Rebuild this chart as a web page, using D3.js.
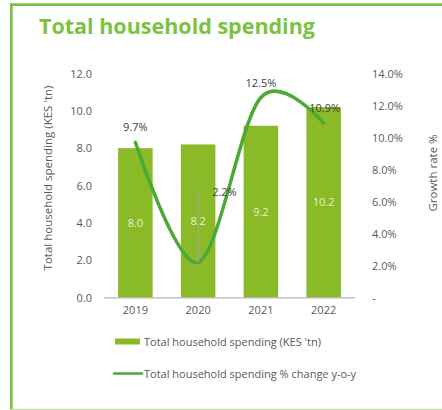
<!DOCTYPE html>
<html><head><meta charset="utf-8">
<script src="https://cdn.jsdelivr.net/npm/d3@7"></script>
<style>body{margin:0;background:#fff;}svg{display:block;font-family:"Open Sans",sans-serif;}</style>
</head><body><svg id="c" width="442" height="410"></svg>
<script>
const years = ["2019","2020","2021","2022"];
const spending = [8.0, 8.2, 9.2, 10.2];
const growth = [9.7, 2.2, 12.5, 10.9];
const leftTicks = [0,2,4,6,8,10,12];
const rightTicks = [0,2,4,6,8,10,12,14];
const title = "Total household spending";
const barName = "Total household spending (KES 'tn)";
const lineName = "Total household spending % change y-o-y";
const leftTitle = "Total household spending (KES 'tn)";
const rightTitle = "Growth rate %";

const svg = d3.select("#c");
const barColor = "#8aba27", lineColor = "#4aaa33", frame = "#7cc242", txt = "#595959";

// frame
svg.append("rect").attr("x",10).attr("y",3.3).attr("width",432).attr("height",2.7).attr("fill",frame);
svg.append("rect").attr("x",10).attr("y",3.3).attr("width",2.7).attr("height",406.7).attr("fill",frame);
svg.append("rect").attr("x",10).attr("y",408.8).attr("width",432).attr("height",1.2).attr("fill","#bfe09a");

svg.append("text").attr("x",39).attr("y",34).attr("font-size",21.5).attr("font-weight",700)
  .attr("fill",frame).text(title);

const x = d3.scaleBand().domain(years).range([104,355]).paddingInner(0.45).paddingOuter(0.225);
const yL = d3.scaleLinear().domain([0,12]).range([297.5,73.5]);
const yR = d3.scaleLinear().domain([0,14]).range([297.5,73.5]);

// bars
svg.selectAll(".bar").data(years).join("rect")
  .attr("x",d=>x(d)).attr("width",x.bandwidth())
  .attr("y",(d,i)=>yL(spending[i])).attr("height",(d,i)=>yL(0)-yL(spending[i]))
  .attr("fill",barColor);

// x axis line
svg.append("line").attr("x1",104).attr("x2",355).attr("y1",297.8).attr("y2",297.8)
  .attr("stroke","#b3b3b3").attr("stroke-width",1.3);

// left axis
const gl = svg.append("g").attr("transform","translate(92,0)")
  .call(d3.axisLeft(yL).tickValues(leftTicks).tickFormat(d3.format(".1f")).tickSize(0).tickPadding(0));
gl.select(".domain").remove();
gl.selectAll("text").attr("font-size",11).attr("fill",txt).attr("font-family","Open Sans");

// right axis
const gr = svg.append("g").attr("transform","translate(372,0)")
  .call(d3.axisRight(yR).tickValues(rightTicks).tickFormat(d=>d===0?"-":d3.format(".1f")(d)+"%").tickSize(0).tickPadding(0));
gr.select(".domain").remove();
gr.selectAll("text").attr("font-size",11).attr("fill",txt).attr("font-family","Open Sans");

// x axis labels
const gx = svg.append("g").attr("transform","translate(0,306)")
  .call(d3.axisBottom(x).tickSize(0).tickPadding(0));
gx.select(".domain").remove();
gx.selectAll("text").attr("font-size",11).attr("fill",txt).attr("font-family","Open Sans");

// axis titles
svg.append("text").attr("transform","translate(52,178) rotate(-90)").attr("text-anchor","middle")
  .attr("font-size",11.5).attr("fill",txt).text(leftTitle);
svg.append("text").attr("transform","translate(437,173) rotate(-90)").attr("text-anchor","middle")
  .attr("font-size",11.5).attr("fill",txt).text(rightTitle);

// bar value labels
svg.selectAll(".bl").data(years).join("text")
  .attr("x",d=>x(d)+x.bandwidth()/2).attr("y",(d,i)=>yL(spending[i]/2)+4)
  .attr("text-anchor","middle").attr("font-size",11).attr("fill","#e8f2d0")
  .text((d,i)=>spending[i].toFixed(1));

// line
const pts = years.map((d,i)=>[x(d)+x.bandwidth()/2, yR(growth[i])]);
svg.append("path").attr("d",d3.line().curve(d3.curveCardinal.tension(0))(pts))
  .attr("fill","none").attr("stroke",lineColor).attr("stroke-width",3.5).attr("stroke-linecap","round");

// leader line for 2.2%
const p1 = pts[1];
svg.append("path").attr("d",`M${p1[0]},${p1[1]} V${yR(6.6)} H${p1[0]+5}`)
  .attr("fill","none").attr("stroke","#a6a6a6").attr("stroke-width",1);

// line labels
const lblPos = [[0,-15],[14,0],[0,-15],[1,-15]];
svg.selectAll(".ll").data(years).join("text")
  .attr("x",(d,i)=> i===1 ? p1[0]+14 : pts[i][0]+lblPos[i][0])
  .attr("y",(d,i)=> i===1 ? yR(6.6)+4 : pts[i][1]+lblPos[i][1]+4)
  .attr("text-anchor",(d,i)=> i===1 ? "start":"middle")
  .attr("font-size",11).attr("fill","#404040")
  .text((d,i)=>growth[i].toFixed(1)+"%");

// legend
svg.append("rect").attr("x",115).attr("y",338.5).attr("width",25).attr("height",6).attr("fill",barColor);
svg.append("text").attr("x",144).attr("y",345.5).attr("font-size",11).attr("fill",txt).text(barName);
svg.append("line").attr("x1",114).attr("x2",142).attr("y1",373.5).attr("y2",373.5)
  .attr("stroke",lineColor).attr("stroke-width",2.5).attr("stroke-linecap","round");
svg.append("text").attr("x",144).attr("y",377.5).attr("font-size",11).attr("fill",txt).text(lineName);
</script></body></html>
